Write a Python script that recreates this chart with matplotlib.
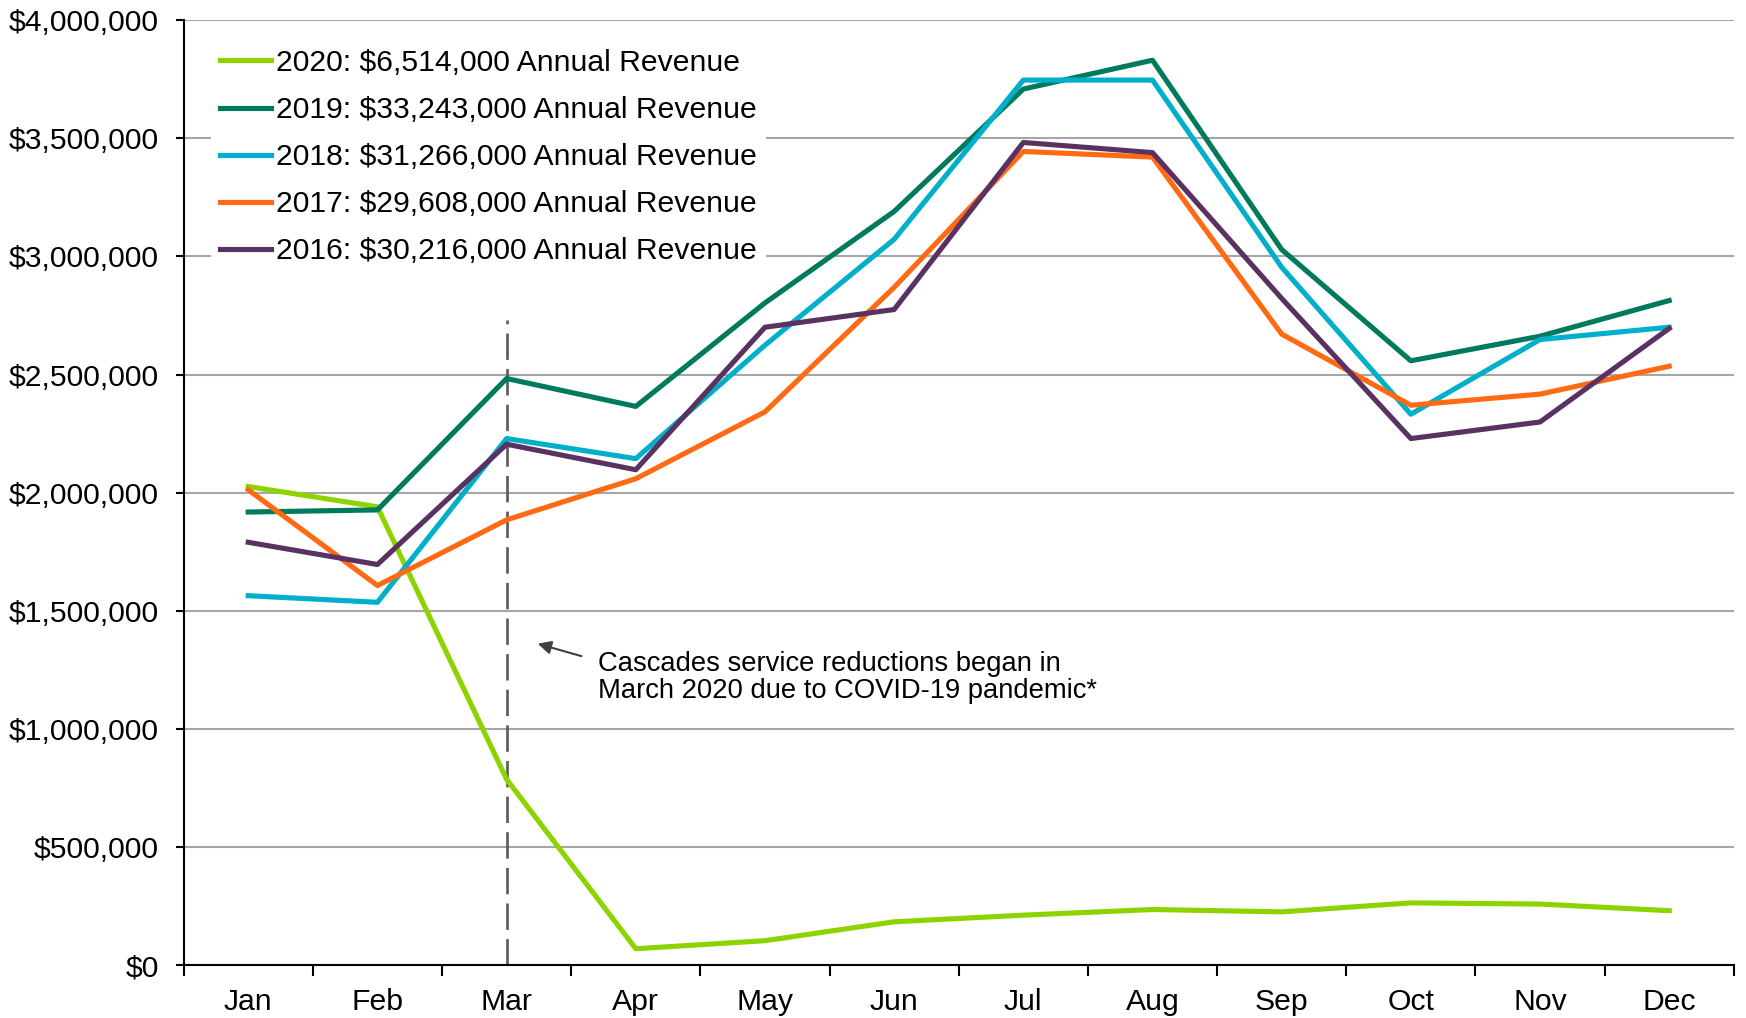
import matplotlib
matplotlib.use('Agg')
import matplotlib.pyplot as plt
from matplotlib.ticker import FuncFormatter

plt.rcParams['font.family'] = ['Liberation Sans', 'DejaVu Sans']

months = ['Jan', 'Feb', 'Mar', 'Apr', 'May', 'Jun', 'Jul', 'Aug', 'Sep', 'Oct', 'Nov', 'Dec']

rev2020 = [2026000, 1940000, 787000, 70000, 104000, 184000, 212000, 236000, 226000, 264000, 259000, 231000]
rev2019 = [1918000, 1927000, 2483000, 2365000, 2803000, 3190000, 3708000, 3830000, 3029000, 2558000, 2662000, 2813000]
rev2018 = [1564000, 1536000, 2229000, 2144000, 2624000, 3072000, 3746000, 3746000, 2954000, 2332000, 2648000, 2700000]
rev2017 = [2012000, 1607000, 1885000, 2059000, 2342000, 2869000, 3444000, 3420000, 2671000, 2370000, 2417000, 2535000]
rev2016 = [1790000, 1696000, 2205000, 2097000, 2700000, 2775000, 3482000, 3439000, 2822000, 2229000, 2299000, 2695000]

labels = ['2020: $6,514,000 Annual Revenue',
          '2019: $33,243,000 Annual Revenue',
          '2018: $31,266,000 Annual Revenue',
          '2017: $29,608,000 Annual Revenue',
          '2016: $30,216,000 Annual Revenue']
colors = ['#8DD300', '#007A5C', '#00AFC9', '#FF6A13', '#5A3262']

note = 'Cascades service reductions began in\nMarch 2020 due to COVID-19 pandemic*'


def main():
    fig = plt.figure(figsize=(17.46, 10.18), dpi=100)
    ax = fig.add_axes([0.1052, 0.0518, 0.8878, 0.9285])

    x = list(range(len(months)))
    series = [rev2020, rev2019, rev2018, rev2017, rev2016]
    for ys, lab, col in zip(series, labels, colors):
        ax.plot(x, ys, '-', color=col, lw=3.7, label=lab)

    # dashed marker for March
    ax.plot([2, 2], [0, 2730000], color='#595959', lw=1.9, linestyle=(0, (10, 3.5)), zorder=1)

    ax.annotate('', xy=(2.22, 1364000), xytext=(2.60, 1305000),
                arrowprops=dict(arrowstyle='-|>', color='#404040', lw=1.5, mutation_scale=20))
    ax.text(2.707, 1218000, note, fontsize=19.7, va='center', ha='left', linespacing=1.08)

    ax.set_xlim(-0.5, 11.5)
    ax.set_ylim(0, 4000000)
    ax.set_yticks(range(0, 4000001, 500000))
    ax.yaxis.set_major_formatter(FuncFormatter(lambda v, p: '${:,.0f}'.format(v)))
    ax.grid(axis='y', color='#A6A6A6', lw=1.5)
    ax.set_axisbelow(True)

    ax.set_xticks([i - 0.5 for i in range(13)])
    ax.set_xticklabels([])
    ax.set_xticks(x, minor=True)
    ax.set_xticklabels(months, minor=True)
    ax.tick_params(axis='x', which='major', length=8, width=1.5, direction='out')
    ax.tick_params(axis='x', which='minor', length=0, pad=16.5, labelsize=21.7)
    ax.tick_params(axis='y', length=6, width=1.5, direction='out', pad=12, labelsize=21.7)

    for s in ['top', 'right']:
        ax.spines[s].set_visible(False)
    for s in ['left', 'bottom']:
        ax.spines[s].set_linewidth(1.5)
        ax.spines[s].set_color('black')

    ax.legend(loc='upper left', bbox_to_anchor=(0.0176, 0.979), fontsize=21.7,
              frameon=True, facecolor='white', edgecolor='none', framealpha=1,
              fancybox=False, borderpad=0.3, borderaxespad=0, handlelength=1.7,
              handletextpad=0.15, labelspacing=0.635)

    fig.savefig('out.png', dpi=100)
    plt.clf()


if __name__ == "__main__":
    main()
